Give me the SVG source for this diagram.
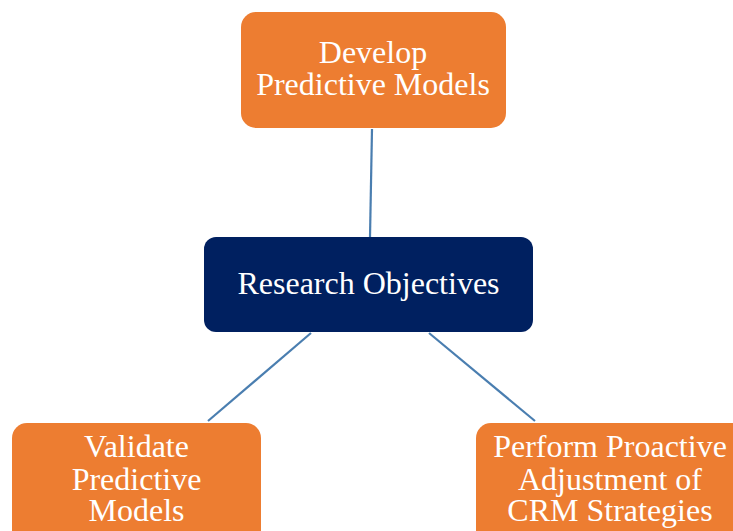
<svg xmlns="http://www.w3.org/2000/svg" width="733" height="531" viewBox="0 0 733 531">
  <style>
    .box-orange { fill: #ED7D31; }
    .box-navy { fill: #002060; }
    .label { fill: #FFFFFF; font-family: "Liberation Serif", "Times New Roman", serif; font-size: 32px; text-anchor: middle; }
    .link { stroke: #4A7EB0; stroke-width: 2.2; fill: none; }
  </style>
  <rect width="733" height="531" fill="#FFFFFF"/>
  <g id="connectors">
    <line class="link" x1="372" y1="129" x2="370" y2="237"/>
    <line class="link" x1="311" y1="333" x2="208" y2="421"/>
    <line class="link" x1="429" y1="333" x2="535" y2="421"/>
  </g>
  <g id="node-develop">
    <rect class="box-orange" x="241" y="12" width="265" height="116" rx="15"/>
    <text class="label" x="373" y="63">Develop</text>
    <text class="label" x="373" y="95">Predictive Models</text>
  </g>
  <g id="node-research">
    <rect class="box-navy" x="204" y="237" width="329" height="95" rx="12"/>
    <text class="label" x="368.5" y="294">Research Objectives</text>
  </g>
  <g id="node-validate">
    <rect class="box-orange" x="12" y="423" width="249" height="130" rx="15"/>
    <text class="label" x="136.5" y="457">Validate</text>
    <text class="label" x="136.5" y="490">Predictive</text>
    <text class="label" x="136.5" y="521">Models</text>
  </g>
  <g id="node-adjust">
    <rect class="box-orange" x="476" y="423" width="270" height="130" rx="15"/>
    <text class="label" x="610" y="457">Perform Proactive</text>
    <text class="label" x="610" y="490">Adjustment of</text>
    <text class="label" x="610" y="521">CRM Strategies</text>
  </g>
</svg>
